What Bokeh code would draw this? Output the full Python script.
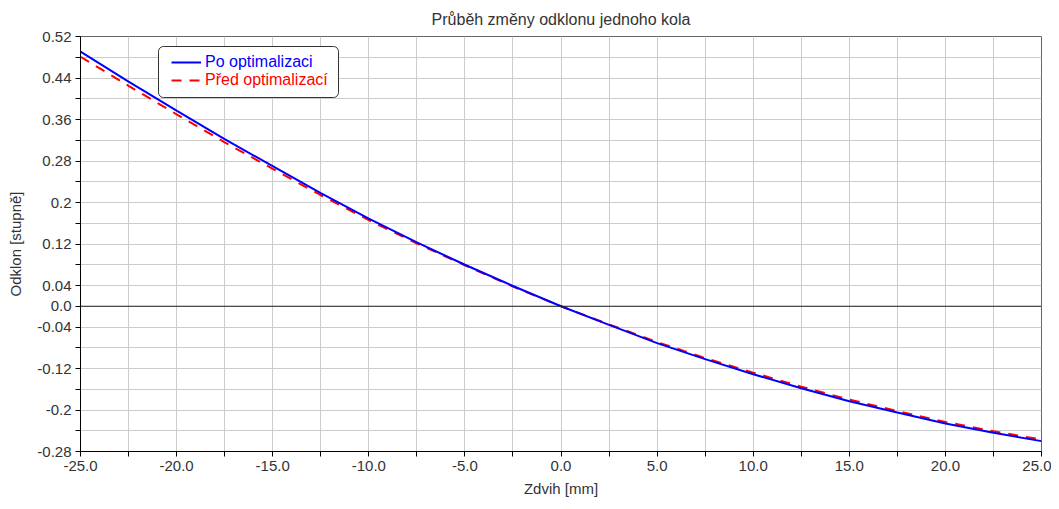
from bokeh.plotting import figure
from bokeh.models import Range1d, FixedTicker, Span, Legend, LegendItem, BoxAnnotation
from bokeh.embed import file_html
from bokeh.resources import INLINE

# ---------------- data ----------------
title_text = "Průběh změny odklonu jednoho kola"
x_label = "Zdvih [mm]"
y_label = "Odklon [stupně]"
legend_labels = ["Po optimalizaci", "Před optimalizací"]

zdvih_mm = [-25.0, -22.5, -20.0, -17.5, -15.0, -12.5, -10.0, -7.5, -5.0, -2.5, 0.0,
            2.5, 5.0, 7.5, 10.0, 12.5, 15.0, 17.5, 20.0, 22.5, 25.0]
po_optimalizaci = [0.491, 0.433, 0.377, 0.322, 0.270, 0.218, 0.169, 0.123, 0.080, 0.039, 0.0,
                   -0.036, -0.071, -0.102, -0.131, -0.158, -0.183, -0.205, -0.226, -0.244, -0.260]
pred_optimalizaci = [0.481, 0.425, 0.370, 0.316, 0.265, 0.214, 0.166, 0.121, 0.079, 0.038, 0.0,
                     -0.035, -0.069, -0.100, -0.128, -0.155, -0.180, -0.202, -0.223, -0.241, -0.257]

x_tick_values = [-25.0, -22.5, -20.0, -17.5, -15.0, -12.5, -10.0, -7.5, -5.0, -2.5, 0.0,
                 2.5, 5.0, 7.5, 10.0, 12.5, 15.0, 17.5, 20.0, 22.5, 25.0]
x_tick_labels = ["-25.0", "", "-20.0", "", "-15.0", "", "-10.0", "", "-5.0", "", "0.0",
                 "", "5.0", "", "10.0", "", "15.0", "", "20.0", "", "25.0"]
y_tick_values = [-0.28, -0.24, -0.2, -0.16, -0.12, -0.08, -0.04, 0.0, 0.04, 0.08, 0.12,
                 0.16, 0.2, 0.24, 0.28, 0.32, 0.36, 0.40, 0.44, 0.48, 0.52]
y_tick_labels = ["-0.28", "", "-0.2", "", "-0.12", "", "-0.04", "0.0", "0.04", "", "0.12",
                 "", "0.2", "", "0.28", "", "0.36", "", "0.44", "", "0.52"]

FONT = "Liberation Sans"
TEXT = "#333333"

p = figure(width=1051, height=501,
           x_range=Range1d(-25, 25), y_range=Range1d(-0.28, 0.52),
           output_backend="svg", toolbar_location=None, title=title_text,
           min_border_left=80, min_border_right=10, min_border_top=36, min_border_bottom=50)

p.background_fill_color = "white"
p.border_fill_color = "white"
p.outline_line_color = "#666666"
p.outline_line_width = 1

p.title.align = "center"
p.title.vertical_align = "top"
p.title.text_font = FONT
p.title.text_font_size = "16px"
p.title.text_font_style = "normal"
p.title.text_color = TEXT
p.title.standoff = 14

p.xaxis.ticker = FixedTicker(ticks=x_tick_values, minor_ticks=[])
p.yaxis.ticker = FixedTicker(ticks=y_tick_values, minor_ticks=[])
p.xaxis.major_label_overrides = dict(zip(x_tick_values, x_tick_labels))
p.yaxis.major_label_overrides = dict(zip(y_tick_values, y_tick_labels))

for ax in (p.xaxis, p.yaxis):
    ax.axis_line_color = "black"
    ax.major_tick_line_color = "black"
    ax.major_tick_out = 5
    ax.major_tick_in = 0
    ax.minor_tick_out = 0
    ax.minor_tick_in = 0
    ax.major_label_text_font = FONT
    ax.major_label_text_font_size = "15px"
    ax.major_label_text_color = TEXT
    ax.axis_label_text_font = FONT
    ax.axis_label_text_font_size = "15px"
    ax.axis_label_text_font_style = "normal"
    ax.axis_label_text_color = TEXT

p.xaxis.axis_label = x_label
p.yaxis.axis_label = y_label
p.xaxis.major_label_standoff = 4
p.yaxis.major_label_standoff = 4
p.xaxis.axis_label_standoff = 6
p.yaxis.axis_label_standoff = 10

p.grid.grid_line_color = "#cccccc"
p.grid.grid_line_width = 1

p.add_layout(Span(location=0, dimension="width", line_color="#222222", line_width=1))

r_pred = p.line(zdvih_mm, pred_optimalizaci, line_color="#ff0000", line_width=2, line_dash="10 8")
r_po = p.line(zdvih_mm, po_optimalizaci, line_color="#0000ff", line_width=2)

# legend frame (frame-relative screen units)
box = BoxAnnotation(left=78, right=258, bottom=354, top=405,
                    left_units="screen", right_units="screen",
                    bottom_units="screen", top_units="screen",
                    fill_color="white", fill_alpha=1.0,
                    line_color="#333333", line_width=1, line_alpha=1.0,
                    border_radius=5)
p.add_layout(box)

def make_legend(label, renderer, color, loc):
    return Legend(items=[LegendItem(label=label, renderers=[renderer])],
                  location=loc, padding=0, margin=0, spacing=0,
                  glyph_width=30, glyph_height=20, label_height=20,
                  label_standoff=4, label_text_color=color,
                  label_text_font=FONT, label_text_font_size="16px",
                  background_fill_alpha=0, border_line_alpha=0)

p.add_layout(make_legend(legend_labels[0], r_po, "#0000ff", (91, 379)))
p.add_layout(make_legend(legend_labels[1], r_pred, "#ff0000", (91, 361)))

open("out.html", "w").write(file_html(p, INLINE))
